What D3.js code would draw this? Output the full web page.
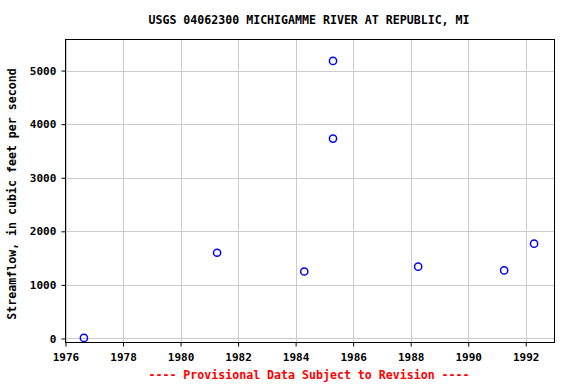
<!DOCTYPE html>
<html><head><meta charset="utf-8">
<script src="https://cdn.jsdelivr.net/npm/d3@7"></script>
<style>body{margin:0;background:#fff}</style>
</head><body>
<svg id="c" width="576" height="384"></svg>
<script>
const years = [1976.64, 1981.27, 1984.30, 1985.30, 1985.30, 1988.26, 1991.25, 1992.29];
const flows = [10, 1600, 1250, 5180, 3730, 1340, 1270, 1770];
const xTicks = [1976, 1978, 1980, 1982, 1984, 1986, 1988, 1990, 1992];
const yTicks = [0, 1000, 2000, 3000, 4000, 5000];
const title = "USGS 04062300 MICHIGAMME RIVER AT REPUBLIC, MI";
const yLabel = "Streamflow, in cubic feet per second";
const note = "---- Provisional Data Subject to Revision ----";

const svg = d3.select("#c");
const L = 65.5, R = 554.5, T = 39.5, B = 342.5;
const x = d3.scaleLinear().domain([1976, 1993]).range([L, R]);
const y = d3.scaleLinear().domain([-75, 5580]).range([B, T]);
const font = "'DejaVu Sans Mono', monospace";

svg.append("g").selectAll("line.v").data(xTicks).join("line")
  .attr("x1", d => Math.round(x(d)) + 0.5).attr("x2", d => Math.round(x(d)) + 0.5)
  .attr("y1", T).attr("y2", B).attr("stroke", "#cccccc").attr("stroke-width", 1);
svg.append("g").selectAll("line.h").data(yTicks).join("line")
  .attr("y1", d => Math.round(y(d)) + 0.5).attr("y2", d => Math.round(y(d)) + 0.5)
  .attr("x1", L).attr("x2", R).attr("stroke", "#cccccc").attr("stroke-width", 1);

const xa = svg.append("g").attr("transform", `translate(0,${B})`)
  .call(d3.axisBottom(x).tickValues(xTicks).tickFormat(d3.format("d")).tickSize(4).tickSizeOuter(0));
const ya = svg.append("g").attr("transform", `translate(${L},0)`)
  .call(d3.axisLeft(y).tickValues(yTicks).tickFormat(d3.format("d")).tickSize(4).tickSizeOuter(0));
[xa, ya].forEach(a => {
  a.select(".domain").remove();
  a.selectAll("text").attr("font-family", font).attr("font-size", 11).attr("font-weight", "bold").attr("fill", "#000");
});
xa.selectAll("text").attr("dy", "1.05em");
ya.selectAll("text").attr("dx", "-0.2em");

svg.append("rect").attr("x", L).attr("y", T).attr("width", R - L).attr("height", B - T)
  .attr("fill", "none").attr("stroke", "#000").attr("stroke-width", 1);

svg.append("g").selectAll("circle").data(years.map((d, i) => [d, flows[i]])).join("circle")
  .attr("cx", d => x(d[0])).attr("cy", d => y(d[1])).attr("r", 3.6)
  .attr("fill", "none").attr("stroke", "#0000ff").attr("stroke-width", 1.5);

svg.append("text").attr("x", 309).attr("y", 24).attr("text-anchor", "middle")
  .attr("font-family", font).attr("font-size", 11.6).attr("font-weight", "bold").text(title);
svg.append("text").attr("transform", "translate(16,194) rotate(-90)").attr("text-anchor", "middle")
  .attr("font-family", font).attr("font-size", 11.6).attr("font-weight", "bold").text(yLabel);
svg.append("text").attr("x", 309).attr("y", 379).attr("text-anchor", "middle").attr("fill", "#ff0000")
  .attr("font-family", font).attr("font-size", 11.6).attr("font-weight", "bold").text(note);
</script>
</body></html>
